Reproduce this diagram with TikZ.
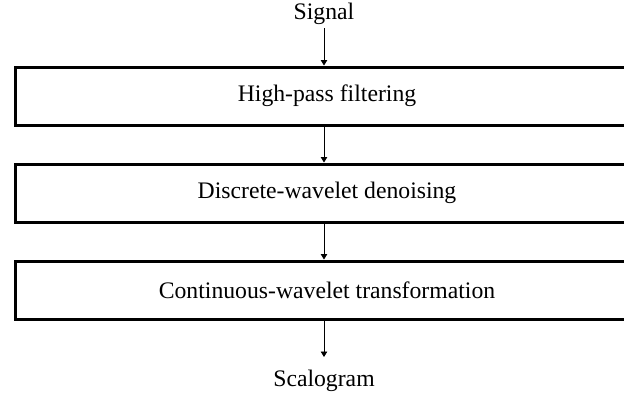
\documentclass[tikz,border=0pt]{standalone}
\usepackage{fontspec}
\setmainfont{Liberation Serif}
\usetikzlibrary{arrows.meta}
\begin{document}
\begin{tikzpicture}[x=1pt,y=-1pt,
  stage/.style={draw, line width=3pt, minimum width=624pt, minimum height=58pt,
    inner sep=0pt, anchor=north west, font=\fontsize{23.7}{26}\selectfont},
  label/.style={inner sep=0pt, anchor=base, font=\fontsize{23.7}{26}\selectfont},
  flow/.style={line width=0.9pt, -{Triangle[length=5.5pt,width=6.5pt]}}]
  \useasboundingbox (0,0) rectangle (624,392);
  \clip (0,0) rectangle (624,392);
  \node[label] (sig) at (324,19.5) {Signal};
  \node[stage] (hp) at (13.5,65.5) {High-pass filtering};
  \node[stage] (dw) at (13.5,162.5) {Discrete-wavelet denoising};
  \node[stage] (cw) at (13.5,259.5) {Continuous-wavelet transformation};
  \node[label] (sca) at (324,386) {Scalogram};
  \coordinate (sigb) at (324,28);
  \coordinate (scat) at (324,357);
  \draw[flow] (sigb) -- (hp.north -| sigb);
  \draw[flow] (hp.south -| sigb) -- (dw.north -| sigb);
  \draw[flow] (dw.south -| sigb) -- (cw.north -| sigb);
  \draw[flow] (cw.south -| sigb) -- (scat);
\end{tikzpicture}
\end{document}
